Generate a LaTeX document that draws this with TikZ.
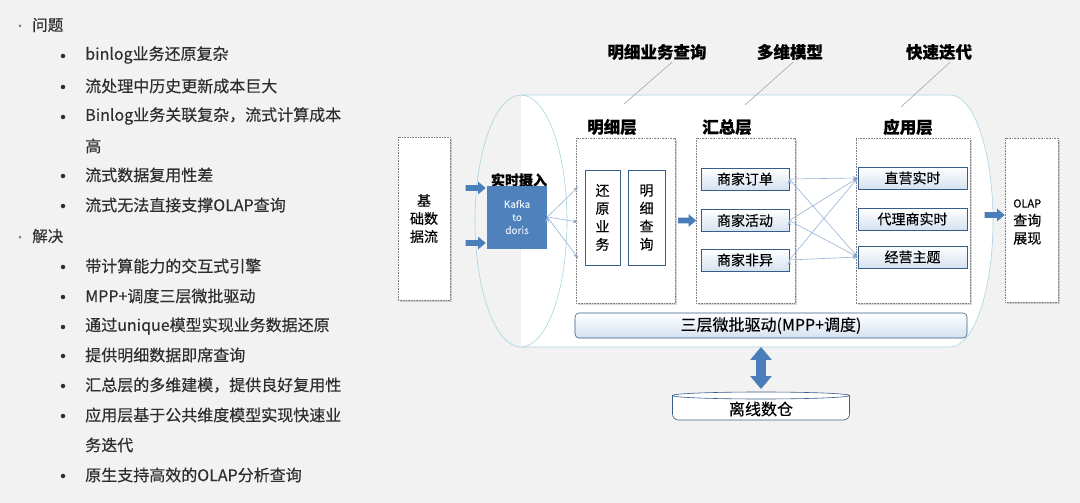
\documentclass[tikz,border=0pt]{standalone}
\usepackage{fontspec}
\setmainfont{Noto Sans CJK SC}[FakeBold=0.3]
\usetikzlibrary{arrows.meta, shadows, shapes.arrows, calc}
\definecolor{bgc}{HTML}{F2F2F2}
\definecolor{kb}{HTML}{4F81BD}
\definecolor{ab}{HTML}{4A7EBB}
\definecolor{bb}{HTML}{385D8A}
\definecolor{lb}{HTML}{D5E1F0}
\definecolor{cy}{HTML}{A8D4E2}
\definecolor{fl}{HTML}{95B3D7}
\definecolor{tx}{HTML}{2E2E2E}

\begin{document}
\begin{tikzpicture}[
            x = 1pt, y = 1pt, % pixel grid, y is negative going down
            flow/.style = {-{Stealth[length=5pt, width=4pt]}, draw = fl, line width = 0.6pt},
            semithick % line style
        ]

        \tikzstyle{item}=[anchor = west, inner sep = 0pt, text = tx, font = \fontsize{16}{19}\selectfont]
        \tikzstyle{head}=[anchor = west, inner sep = 0pt, text = tx, font = \fontsize{15.5}{19}\selectfont]
        \tikzstyle{dot}=[circle, fill = tx, inner sep = 0pt, minimum size = 4.5pt]
        \tikzstyle{sdot}=[circle, fill = gray, inner sep = 0pt, minimum size = 3pt]
        \tikzstyle{fat}=[
            single arrow,
            fill = ab,
            inner sep = 2.5pt,
            single arrow head extend = 3.5pt,
            single arrow tip angle = 80,
            minimum height = 20pt
        ]
        \tikzstyle{layer}=[
            draw = gray,
            densely dotted,
            fill = white,
            inner sep = 0pt,
            drop shadow = {opacity = 0.3, shadow xshift = 2pt, shadow yshift = -2pt}
        ]
        \tikzstyle{cell}=[
            draw = bb,
            solid,
            top color = white,
            bottom color = lb,
            inner sep = 0pt,
            font = \fontsize{14}{18}\selectfont
        ]
        \tikzstyle{title}=[inner sep = 0pt, font = \fontsize{16.5}{19}\selectfont\bfseries]

        % background and page size
        \fill[bgc] (0, 0) rectangle (1080, -503);
        \useasboundingbox (0, 0) rectangle (1080, -503);

        % ---- left text list ----
        \node[sdot] (h1dot) [at={(20, -26)}] {};
        \node[head] (h1) [at={(32, -25)}] {问题};
        \node[sdot] (h2dot) [at={(20, -237)}] {};
        \node[head] (h2) [at={(32, -236)}] {解决};
        \foreach \y/\n in {55/1, 86/2, 116/3, 175/4, 205/5, 266/6, 296/7, 326/8, 355/9, 385/10, 415/11, 475/12}
            \node[dot] (d\n) [at={(63, -\y-1)}] {};
        \node[item] (t1) [at={(85, -55)}] {binlog业务还原复杂};
        \node[item] (t2) [at={(85, -86)}] {流处理中历史更新成本巨大};
        \node[item] (t3) [at={(85, -116)}] {Binlog业务关联复杂，流式计算成本};
        \node[item] (t3b) [at={(85, -146)}] {高};
        \node[item] (t4) [at={(85, -175)}] {流式数据复用性差};
        \node[item] (t5) [at={(85, -205)}] {流式无法直接支撑OLAP查询};
        \node[item] (t6) [at={(85, -266)}] {带计算能力的交互式引擎};
        \node[item] (t7) [at={(85, -296)}] {MPP+调度三层微批驱动};
        \node[item] (t8) [at={(85, -326)}] {通过unique模型实现业务数据还原};
        \node[item] (t9) [at={(85, -355)}] {提供明细数据即席查询};
        \node[item] (t10) [at={(85, -385)}] {汇总层的多维建模，提供良好复用性};
        \node[item] (t11) [at={(85, -415)}] {应用层基于公共维度模型实现快速业};
        \node[item] (t11b) [at={(85, -445)}] {务迭代};
        \node[item] (t12) [at={(85, -475)}] {原生支持高效的OLAP分析查询};

        % ---- big horizontal cylinder ----
        \draw[cy, fill = white] (521, -95) -- (950, -95)
            arc[start angle = 90, end angle = -90, x radius = 43pt, y radius = 126pt]
            -- (521, -347);
        \draw[cy] (521, -221) ellipse [x radius = 46pt, y radius = 126pt];

        % ---- top labels ----
        \node[title] (qdetail) [at={(657, -52)}] {明细业务查询};
        \node[title] (qmulti) [at={(790, -52)}] {多维模型};
        \node[title] (qfast) [at={(939, -52)}] {快速迭代};
        \coordinate (pdetail) at (624, -104);
        \coordinate (pmulti) at (745, -105);
        \coordinate (pfast) at (901, -107);

        % ---- layers ----
        \node[layer, minimum width = 52pt, minimum height = 163pt, align = center,
              font = \fontsize{14}{18}\selectfont] (src) [at={(424, -218.5)}] {基\\础数\\据流};
        \node[inner sep = 0pt, font = \fontsize{14}{16}\selectfont\bfseries] (ingest) [at={(519, -180)}] {实时摄入};
        \node[fill = kb, inner sep = 0pt, minimum width = 60pt, minimum height = 63pt, align = center,
              text = white!85!kb, font = \fontsize{10}{13}\selectfont] (kafka) [at={(517, -217)}] {Kafka\\to\\doris};

        \node[title] (ldetail) [at={(612, -127)}] {明细层};
        \node[layer, minimum width = 99pt, minimum height = 165pt] (detail) [at={(625.5, -220.5)}] {};
        \node[cell, top color = white, bottom color = white, minimum width = 35pt, minimum height = 95pt, align = center]
            (restore) [at={(602.5, -217.5)}] {还\\原\\业\\务};
        \node[cell, top color = white, bottom color = white, minimum width = 37pt, minimum height = 95pt, align = center]
            (dquery) [at={(646.5, -217.5)}] {明\\细\\查\\询};

        \node[title] (lsum) [at={(727, -127)}] {汇总层};
        \node[layer, minimum width = 99pt, minimum height = 165pt] (summary) [at={(745.5, -220.5)}] {};
        \node[cell, minimum width = 88pt, minimum height = 22pt] (order) [at={(745, -179)}] {商家订单};
        \node[cell, minimum width = 88pt, minimum height = 22pt] (activity) [at={(745, -220.5)}] {商家活动};
        \node[cell, minimum width = 88pt, minimum height = 22pt] (nonabn) [at={(745, -260)}] {商家非异};

        \node[title] (lapp) [at={(908, -127)}] {应用层};
        \node[layer, minimum width = 114pt, minimum height = 165pt] (app) [at={(913, -220.5)}] {};
        \node[cell, minimum width = 109pt, minimum height = 22pt] (direct) [at={(912.5, -178)}] {直营实时};
        \node[cell, minimum width = 109pt, minimum height = 22pt] (agent) [at={(912.5, -219)}] {代理商实时};
        \node[cell, minimum width = 109pt, minimum height = 22pt] (topic) [at={(912.5, -257)}] {经营主题};

        \node[layer, minimum width = 53pt, minimum height = 164pt] (olap) [at={(1031.5, -220)}] {};
        \node[anchor = west, inner sep = 0pt, align = left, font = \fontsize{14}{18}\selectfont] (olaptxt)
            [at={(1013, -222)}] {{\fontsize{11}{13}\selectfont OLAP}\\查询\\展现};

        \node[cell, rounded corners = 4pt, minimum width = 392pt, minimum height = 25pt,
              font = \fontsize{16}{19}\selectfont] (driver) [at={(771, -325.5)}] {三层微批驱动(MPP+调度)};

        % offline store, drawn as a flat cylinder
        \node[inner sep = 0pt, minimum width = 177pt, minimum height = 28pt] (offline) [at={(761, -406)}] {};
        \draw[bb, fill = white, rounded corners = 6pt] (672.5, -395.5) -- (672.5, -420)
            -- (849.5, -420) -- (849.5, -395.5);
        \draw[bb, fill = white] (761, -395.5) ellipse [x radius = 88.5pt, y radius = 3.5pt];
        \node[inner sep = 0pt, font = \fontsize{16}{19}\selectfont] (offtxt) [at={(761, -409)}] {离线数仓};

        % ---- block arrows ----
        \node[fat] (a1) [at={(474, -188)}] {};
        \node[fat] (a2) [at={(474, -243)}] {};
        \node[fat, minimum height = 18pt] (a3) at ($(detail.east)!0.5!(summary.west)$) {};
        \node[fat] (a4) [at={(993, -215)}] {};
        \node[double arrow, fill = ab, inner sep = 4.5pt, double arrow head extend = 6pt,
              double arrow tip angle = 80, minimum height = 42pt, rotate = 90]
            (a5) [at={(761, -368)}] {};

        % ---- connectors ----
        \path[draw = gray!70, line width = 0.6pt] (qdetail.south) ++(15, -2) -- (pdetail);
        \path[draw = gray!70, line width = 0.6pt] (qmulti.south) ++(3, -2) -- (pmulti);
        \path[draw = gray!70, line width = 0.6pt] (qfast.south) ++(11, -2) -- (pfast);

        \coordinate (f1) at (578, -187);
        \coordinate (f2) at (578, -222);
        \coordinate (f3) at (578, -258);
        \path[flow] (kafka.east) edge (f1) edge (f2) edge (f3);

        \path[flow] (order.east) edge (direct.west) edge (topic.west);
        \path[flow] (activity.east) edge (direct.west) edge (topic.west);
        \path[flow] (nonabn.east) edge (direct.west) edge (topic.west);
    \end{tikzpicture}
\end{document}
